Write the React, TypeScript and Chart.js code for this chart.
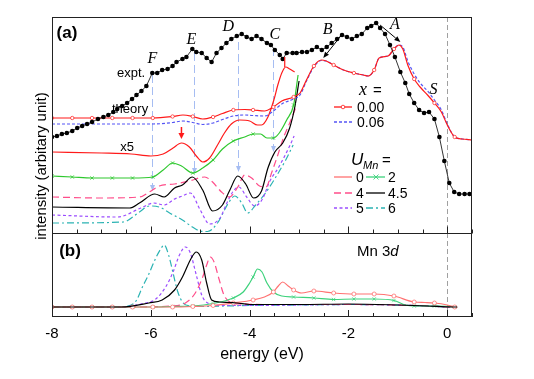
import React, { useEffect, useRef } from "react";
import { Chart, registerables } from "chart.js";

Chart.register(...registerables);

type P = [number, number];

// ---------------- axis ----------------
const X_MIN = -8;
const X_MAX = 0.5;
const X_LABELED = [-8, -6, -4, -2, 0];
const X_MINOR_STEP = 0.5;

// energies where the curves carry symbols
const MARKER_E = [-8.0, -7.59, -7.19, -6.78, -6.37, -5.96, -5.56, -5.15, -4.74, -4.33, -3.93, -3.52, -3.11, -2.7, -2.3, -1.89, -1.48, -1.08, -0.67, -0.26, 0.15];

// ---------------- panel (a) ----------------
const EXPT: P[] = [
  [-8.0, 96], [-7.9, 97], [-7.8, 99], [-7.7, 100], [-7.59, 102], [-7.49, 105], [-7.39, 107], [-7.29, 109], [-7.19, 111],
  [-7.07, 114], [-6.96, 116], [-6.86, 118], [-6.76, 121], [-6.68, 124], [-6.58, 127], [-6.48, 130], [-6.38, 134],
  [-6.29, 138], [-6.19, 142], [-6.09, 147], [-5.97, 160], [-5.87, 160], [-5.77, 163], [-5.66, 164], [-5.56, 167],
  [-5.48, 171], [-5.36, 174], [-5.28, 176], [-5.16, 184], [-5.08, 181], [-4.97, 180], [-4.87, 175], [-4.77, 171],
  [-4.67, 180], [-4.57, 185], [-4.47, 190], [-4.37, 194], [-4.26, 197], [-4.16, 199], [-4.06, 196], [-3.96, 194],
  [-3.86, 197], [-3.76, 194], [-3.65, 190], [-3.57, 188], [-3.49, 183], [-3.39, 178], [-3.33, 174], [-3.25, 180],
  [-3.13, 180], [-3.05, 180], [-2.94, 181], [-2.84, 181], [-2.74, 183], [-2.64, 186], [-2.54, 183], [-2.44, 186],
  [-2.34, 190], [-2.23, 194], [-2.13, 198], [-2.03, 196], [-1.93, 194], [-1.83, 197], [-1.73, 199], [-1.62, 205],
  [-1.54, 207], [-1.44, 210], [-1.36, 205], [-1.26, 199], [-1.16, 188], [-1.06, 176], [-0.95, 161], [-0.85, 150],
  [-0.77, 139], [-0.67, 130], [-0.57, 123], [-0.47, 120], [-0.37, 121], [-0.26, 114], [-0.16, 96], [-0.06, 72],
  [0.04, 50], [0.14, 41], [0.24, 39], [0.35, 39], [0.45, 39],
];

const THEORY_X000: P[] = [
  [-8.0, 115], [-7.59, 115], [-7.19, 115], [-6.78, 115], [-6.37, 115], [-5.96, 115], [-5.56, 116.5], [-5.35, 118],
  [-5.15, 116.5], [-4.95, 114], [-4.74, 116], [-4.55, 119.5], [-4.33, 123], [-4.1, 123.5], [-3.93, 123], [-3.7, 122],
  [-3.52, 126], [-3.35, 132], [-3.11, 136], [-2.98, 140], [-2.85, 153], [-2.7, 167], [-2.55, 173], [-2.45, 172],
  [-2.3, 168], [-2.1, 163], [-1.89, 160], [-1.7, 158], [-1.6, 157], [-1.48, 163], [-1.38, 175], [-1.2, 177],
  [-1.08, 184], [-0.98, 188], [-0.9, 184], [-0.8, 168], [-0.67, 154], [-0.55, 146], [-0.4, 138], [-0.26, 130],
  [-0.12, 121], [0.0, 108], [0.15, 96], [0.3, 94], [0.5, 93],
];

const THEORY_X006: P[] = [
  [-8.0, 109], [-5.96, 109], [-5.56, 110.5], [-5.35, 112], [-5.15, 110.5], [-4.95, 108.5], [-4.74, 110], [-4.55, 113.5],
  [-4.33, 117], [-4.1, 118], [-3.93, 117.5], [-3.7, 117], [-3.52, 122], [-3.35, 129], [-3.11, 134], [-2.98, 138],
  [-2.85, 152], [-2.7, 166], [-2.55, 172.5], [-2.45, 172], [-2.3, 168], [-2.1, 163], [-1.89, 160], [-1.7, 158],
  [-1.6, 157], [-1.48, 163], [-1.38, 175], [-1.2, 177], [-1.08, 184], [-0.98, 188], [-0.9, 186], [-0.8, 172],
  [-0.67, 159], [-0.55, 150], [-0.4, 142], [-0.26, 133], [-0.12, 123], [0.0, 109], [0.15, 96], [0.3, 94], [0.5, 93],
];

const TOP_U0_X5: P[] = [
  [-8.0, 81], [-7.0, 80], [-6.4, 79], [-6.0, 77], [-5.75, 79], [-5.55, 85], [-5.38, 90], [-5.22, 86], [-5.08, 77],
  [-4.95, 71], [-4.81, 75], [-4.65, 88], [-4.51, 100], [-4.37, 109], [-4.2, 113], [-4.0, 112], [-3.84, 108],
  [-3.76, 108], [-3.63, 116], [-3.51, 133], [-3.43, 148], [-3.35, 160], [-3.27, 166], [-3.19, 164], [-3.09, 161],
];

const TOP_U2: P[] = [
  [-8.0, 57], [-7.59, 56], [-7.19, 55], [-6.78, 55], [-6.37, 55], [-5.96, 56], [-5.75, 63], [-5.56, 70], [-5.38, 67],
  [-5.15, 60], [-4.95, 65], [-4.74, 73], [-4.55, 84], [-4.33, 92], [-4.1, 96], [-3.93, 99], [-3.78, 99], [-3.65, 95],
  [-3.52, 95], [-3.4, 100], [-3.25, 113], [-3.11, 128], [-3.02, 158],
];

const TOP_U4: P[] = [
  [-8.0, 36], [-7.05, 35], [-6.23, 36], [-6.03, 41], [-5.83, 47], [-5.52, 49], [-5.22, 52], [-4.91, 56], [-4.75, 51],
  [-4.57, 41], [-4.41, 36], [-4.24, 46], [-4.1, 58], [-3.96, 55], [-3.8, 47], [-3.67, 46], [-3.55, 61], [-3.43, 78],
  [-3.31, 96], [-3.19, 110], [-3.07, 125],
];

const TOP_U45: P[] = [
  [-8.0, 26], [-6.43, 25], [-6.23, 30], [-5.92, 39], [-5.73, 36], [-5.52, 45], [-5.36, 48], [-5.16, 56], [-4.95, 43],
  [-4.75, 22], [-4.55, 28], [-4.4, 43], [-4.24, 57], [-4.08, 49], [-3.92, 35], [-3.76, 42], [-3.63, 65], [-3.49, 81],
  [-3.33, 90], [-3.19, 105], [-3.09, 125], [-3.0, 152],
];

const TOP_U5: P[] = [
  [-8.0, 18], [-6.68, 16], [-6.2, 25], [-5.94, 30], [-5.73, 28], [-5.52, 34], [-5.36, 37], [-5.2, 40], [-5.0, 23],
  [-4.81, 9], [-4.6, 15], [-4.47, 29], [-4.33, 42], [-4.22, 46], [-4.06, 36], [-3.9, 27], [-3.74, 34], [-3.6, 51],
  [-3.41, 66], [-3.19, 87], [-3.1, 97],
];

const TOP_U6: P[] = [
  [-8.0, 10], [-6.56, 11], [-6.23, 21], [-6.03, 27], [-5.83, 26], [-5.62, 20], [-5.36, 13], [-5.16, 6], [-5.0, 2],
  [-4.85, 1.5], [-4.65, 10], [-4.43, 30], [-4.3, 37], [-4.16, 30], [-4.04, 20], [-3.88, 28], [-3.68, 40], [-3.47, 56],
  [-3.27, 73], [-3.12, 88],
];

// ---------------- panel (b): Mn 3d ----------------
const BOT_U0: P[] = [
  [-8.0, 10], [-7.59, 10], [-7.19, 10], [-6.78, 10], [-6.37, 10], [-5.96, 10], [-5.56, 10], [-5.15, 10.5], [-4.74, 11.5],
  [-4.33, 14], [-3.93, 17], [-3.7, 20], [-3.52, 25], [-3.42, 31], [-3.33, 35], [-3.22, 31], [-3.11, 27], [-2.95, 24],
  [-2.7, 26], [-2.3, 24], [-1.89, 23], [-1.48, 23], [-1.08, 21], [-0.67, 15], [-0.45, 14.5], [-0.26, 14], [0.0, 12],
  [0.15, 10], [0.2, 9.5],
];

const BOT_U2: P[] = [
  [-8.0, 10], [-7.59, 10], [-7.19, 10], [-6.78, 10], [-6.37, 10], [-5.96, 10], [-5.56, 10.5], [-5.15, 11], [-4.74, 13.5],
  [-4.33, 19], [-4.13, 25], [-4.0, 34], [-3.93, 40], [-3.84, 48], [-3.75, 45], [-3.65, 34], [-3.52, 25], [-3.35, 21],
  [-3.11, 20], [-2.7, 19], [-2.3, 17.5], [-1.89, 18], [-1.48, 18], [-1.08, 16.5], [-0.85, 12], [-0.67, 11],
  [-0.26, 11], [0.15, 10], [0.2, 9.5],
];

const BOT_U4: P[] = [
  [-8.0, 10], [-6.4, 10], [-5.6, 11], [-5.3, 14], [-5.1, 24], [-4.95, 40], [-4.87, 52], [-4.8, 60], [-4.72, 55],
  [-4.62, 38], [-4.52, 22], [-4.4, 15], [-4.2, 13], [-3.5, 12.5], [-3.0, 12.5], [-2.0, 12.5], [-1.0, 12], [-0.4, 11],
  [0.1, 10], [0.2, 10],
];

const BOT_U45: P[] = [
  [-8.0, 10], [-6.6, 10], [-6.04, 14], [-5.77, 17], [-5.52, 27], [-5.36, 40], [-5.18, 59], [-5.08, 65], [-4.97, 57],
  [-4.87, 34], [-4.77, 17], [-4.61, 15], [-4.26, 14], [-4.0, 12.5], [-3.0, 12.5], [-2.0, 13], [-1.0, 12], [-0.4, 11],
  [0.1, 10], [0.2, 10],
];

const BOT_U5: P[] = [
  [-8.0, 10], [-6.6, 10], [-6.2, 13], [-5.9, 18], [-5.7, 30], [-5.55, 45], [-5.42, 62], [-5.3, 70], [-5.2, 64],
  [-5.08, 42], [-4.97, 22], [-4.85, 14], [-4.6, 11.5], [-4.0, 11.5], [-3.0, 12], [-2.0, 12.5], [-1.0, 12], [-0.4, 11],
  [0.1, 10], [0.2, 10],
];

const BOT_U6: P[] = [
  [-8.0, 10], [-6.8, 10], [-6.5, 10.5], [-6.3, 16], [-6.17, 30], [-6.05, 42], [-5.89, 60], [-5.8, 68], [-5.73, 72],
  [-5.64, 62], [-5.55, 44], [-5.46, 26], [-5.36, 15], [-5.2, 11], [-4.9, 10.5], [-4.5, 11], [-4.0, 11.5], [-3.0, 12],
  [-2.0, 12.5], [-1.0, 12], [-0.4, 11], [0.1, 10], [0.2, 10],
];

// ---------------- annotations ----------------
const PEAK_LETTERS = ["F", "E", "D", "C", "B", "A", "S"];
const PEAK_LETTER_E = [-5.97, -5.18, -4.43, -3.49, -2.42, -1.06, -0.28];
const PEAK_LETTER_I = [174, 193, 206, 198, 203, 208, 143];
const GUIDE_E = [-5.97, -5.12, -4.24, -3.53];
const GUIDE_TOP = [158, 180, 191, 185];
const GUIDE_BOTTOM = [42, 59, 61, 81];

const SANS = '"Liberation Sans", Arial, Helvetica, sans-serif';
const SERIF = '"Liberation Serif", "Times New Roman", serif';

const RED = "#ff1a1a";
const BLUE = "#5555f5";
const GREEN_TOP = "#2fc82f";
const GREEN_BOT = "#3dd27c";
const PINK = "#ff4d8a";
const PURPLE = "#9b4dff";
const TEAL = "#2bb3b3";
const SALMON = "#ff7272";
const GUIDE = "#a6bdf2";
const ZERO = "#a0a0a0";

const DASH_BLUE = [3, 2];
const DASH_PINK = [7, 4];
const DASH_PURPLE = [3, 2.5];
const DASH_TEAL = [7, 3, 2, 3];

const isMarker = (e: number) => MARKER_E.some((m) => Math.abs(m - e) < 0.004);

function base(arr: P[], yAxisID: string, color: string, extra: any = {}) {
  return {
    data: arr.map(([x, y]) => ({ x, y })),
    yAxisID,
    xAxisID: "x",
    borderColor: color,
    backgroundColor: color,
    borderWidth: 1.2,
    pointRadius: 0,
    pointHoverRadius: 0,
    tension: 0.3,
    cubicInterpolationMode: "monotone",
    fill: false,
    borderJoinStyle: "round",
    ...extra,
  };
}

const markRadius = (r: number) => (c: any) => (c.raw && isMarker(c.raw.x) ? r : 0);

function arrow(ctx: CanvasRenderingContext2D, x1: number, y1: number, x2: number, y2: number, color: string, width: number, head: number, half: number) {
  ctx.save();
  ctx.strokeStyle = color;
  ctx.fillStyle = color;
  ctx.lineWidth = width;
  ctx.setLineDash([]);
  const ang = Math.atan2(y2 - y1, x2 - x1);
  const bx = x2 - head * Math.cos(ang);
  const by = y2 - head * Math.sin(ang);
  ctx.beginPath();
  ctx.moveTo(x1, y1);
  ctx.lineTo(bx, by);
  ctx.stroke();
  ctx.beginPath();
  ctx.moveTo(x2, y2);
  ctx.lineTo(bx + half * Math.sin(ang), by - half * Math.cos(ang));
  ctx.lineTo(bx - half * Math.sin(ang), by + half * Math.cos(ang));
  ctx.closePath();
  ctx.fill();
  ctx.restore();
}

function sample(ctx: CanvasRenderingContext2D, x1: number, x2: number, y: number, color: string, dash: number[]) {
  ctx.save();
  ctx.strokeStyle = color;
  ctx.lineWidth = 1.3;
  ctx.setLineDash(dash);
  ctx.beginPath();
  ctx.moveTo(x1, y);
  ctx.lineTo(x2, y);
  ctx.stroke();
  ctx.restore();
}

const annotPlugin = {
  id: "annot",
  beforeDatasetsDraw(chart: any) {
    const { ctx, chartArea: a, scales } = chart;
    const x = scales.x;
    const yt = scales.yTop;
    ctx.save();
    ctx.strokeStyle = ZERO;
    ctx.lineWidth = 1;
    ctx.setLineDash([5, 3]);
    const x0 = Math.round(x.getPixelForValue(0)) + 0.5;
    ctx.beginPath();
    ctx.moveTo(x0, a.top);
    ctx.lineTo(x0, a.bottom);
    ctx.stroke();
    GUIDE_E.forEach((e, i) => {
      const px = Math.round(x.getPixelForValue(e)) + 0.5;
      const y1 = yt.getPixelForValue(GUIDE_TOP[i]);
      const y2 = yt.getPixelForValue(GUIDE_BOTTOM[i]);
      ctx.strokeStyle = GUIDE;
      ctx.lineWidth = 1;
      ctx.setLineDash([8, 4]);
      ctx.beginPath();
      ctx.moveTo(px, y1);
      ctx.lineTo(px, y2 - 5);
      ctx.stroke();
      ctx.setLineDash([]);
      ctx.fillStyle = GUIDE;
      ctx.beginPath();
      ctx.moveTo(px, y2);
      ctx.lineTo(px - 2.5, y2 - 6);
      ctx.lineTo(px + 2.5, y2 - 6);
      ctx.closePath();
      ctx.fill();
    });
    ctx.restore();
  },
  afterDatasetsDraw(chart: any) {
    const { ctx, chartArea: a, scales } = chart;
    const x = scales.x;
    const yt = scales.yTop;
    const sep = Math.round(yt.getPixelForValue(0)) + 0.5;
    ctx.save();
    // frame
    ctx.strokeStyle = "#222";
    ctx.lineWidth = 1;
    ctx.setLineDash([]);
    ctx.strokeRect(a.left + 0.5, a.top + 0.5, a.right - a.left - 1, a.bottom - a.top - 1);
    ctx.beginPath();
    ctx.moveTo(a.left, sep);
    ctx.lineTo(a.right, sep);
    ctx.stroke();
    // ticks
    for (let e = X_MIN; e <= X_MAX + 1e-6; e += X_MINOR_STEP) {
      const px = Math.round(x.getPixelForValue(e)) + 0.5;
      const major = X_LABELED.some((v) => Math.abs(v - e) < 1e-6);
      const len = major ? 7 : 4;
      ctx.beginPath();
      ctx.moveTo(px, a.bottom);
      ctx.lineTo(px, a.bottom - len);
      ctx.moveTo(px, sep);
      ctx.lineTo(px, sep - len);
      ctx.stroke();
    }
    // tick labels
    ctx.fillStyle = "#000";
    ctx.font = `15px ${SANS}`;
    ctx.textAlign = "center";
    ctx.textBaseline = "middle";
    X_LABELED.forEach((v) => ctx.fillText(v === 0 ? "0" : `-${Math.abs(v)}`, x.getPixelForValue(v), a.bottom + 17));
    // axis titles
    ctx.font = `16px ${SANS}`;
    ctx.fillText("energy (eV)", (a.left + a.right) / 2, a.bottom + 38);
    ctx.save();
    ctx.translate(42, 166);
    ctx.rotate(-Math.PI / 2);
    ctx.font = `15px ${SANS}`;
    ctx.fillText("intensity (arbitary unit)", 0, 0);
    ctx.restore();
    // panel labels
    ctx.font = `bold 17px ${SANS}`;
    ctx.fillText("(a)", a.left + 15, a.top + 16);
    ctx.fillText("(b)", a.left + 18, sep + 18);
    ctx.textAlign = "left";
    ctx.font = `15px ${SANS}`;
    ctx.fillText("Mn 3", 357, sep + 18);
    const w = ctx.measureText("Mn 3").width;
    ctx.font = `italic 15px ${SANS}`;
    ctx.fillText("d", 357 + w, sep + 18);
    // curve labels
    ctx.textAlign = "center";
    ctx.font = `13px ${SANS}`;
    ctx.fillText("expt.", x.getPixelForValue(-6.4), yt.getPixelForValue(160));
    ctx.fillText("theory", x.getPixelForValue(-6.42), yt.getPixelForValue(123.5));
    ctx.fillText("x5", x.getPixelForValue(-6.48), yt.getPixelForValue(86));
    // peak letters
    ctx.font = `italic 16px ${SERIF}`;
    PEAK_LETTERS.forEach((t, i) => ctx.fillText(t, x.getPixelForValue(PEAK_LETTER_E[i]), yt.getPixelForValue(PEAK_LETTER_I[i])));
    // arrows
    arrow(ctx, x.getPixelForValue(-2.14), yt.getPixelForValue(198), x.getPixelForValue(-2.51), yt.getPixelForValue(175), "#000", 1, 6, 2.5);
    arrow(ctx, x.getPixelForValue(-1.36), yt.getPixelForValue(208), x.getPixelForValue(-0.95), yt.getPixelForValue(191), "#000", 1, 6, 2.5);
    arrow(ctx, x.getPixelForValue(-5.38), yt.getPixelForValue(106), x.getPixelForValue(-5.38), yt.getPixelForValue(94), RED, 1.5, 6, 3);
    ctx.strokeStyle = RED;
    ctx.lineWidth = 1.2;
    ctx.beginPath();
    ctx.moveTo(x.getPixelForValue(-3.29), yt.getPixelForValue(176));
    ctx.lineTo(x.getPixelForValue(-3.29), yt.getPixelForValue(166));
    ctx.stroke();

    // legend: x =
    ctx.fillStyle = "#000";
    ctx.textAlign = "left";
    ctx.textBaseline = "alphabetic";
    ctx.font = `italic 18px ${SERIF}`;
    ctx.fillText("x", 359, 95);
    ctx.font = `15px ${SANS}`;
    ctx.fillText("=", 373, 95);
    ctx.textBaseline = "middle";
    ctx.font = `14px ${SANS}`;
    sample(ctx, 334, 352, 107, RED, []);
    ctx.fillStyle = "#fff";
    ctx.strokeStyle = RED;
    ctx.lineWidth = 0.8;
    ctx.beginPath();
    ctx.arc(343, 107, 1.8, 0, Math.PI * 2);
    ctx.fill();
    ctx.stroke();
    ctx.fillStyle = "#000";
    ctx.fillText("0.00", 357, 108);
    sample(ctx, 334, 352, 122, BLUE, DASH_BLUE);
    ctx.fillText("0.06", 357, 123);

    // legend: U_Mn =
    ctx.textBaseline = "alphabetic";
    ctx.font = `italic 17px ${SANS}`;
    ctx.fillText("U", 351, 165);
    ctx.font = `italic 11px ${SANS}`;
    ctx.fillText("Mn", 363, 169);
    ctx.font = `15px ${SANS}`;
    ctx.fillText("=", 382, 165);
    ctx.textBaseline = "middle";
    ctx.font = `14px ${SANS}`;
    const rows: [string, string, number[], string, string, number[], number][] = [
      [SALMON, "0", [], GREEN_BOT, "2", [], 177],
      [PINK, "4", DASH_PINK, "#000", "4.5", [], 193],
      [PURPLE, "5", DASH_PURPLE, TEAL, "6", DASH_TEAL, 208],
    ];
    rows.forEach(([c1, t1, d1, c2, t2, d2, y]) => {
      sample(ctx, 334, 352, y, c1, d1);
      ctx.fillStyle = "#000";
      ctx.fillText(t1, 356, y + 1);
      sample(ctx, 366, 385, y, c2, d2);
      ctx.fillStyle = "#000";
      ctx.fillText(t2, 388, y + 1);
    });
    // x marker on green legend sample
    ctx.strokeStyle = GREEN_BOT;
    ctx.lineWidth = 0.9;
    ctx.beginPath();
    ctx.moveTo(373.5, 174.5);
    ctx.lineTo(378.5, 179.5);
    ctx.moveTo(378.5, 174.5);
    ctx.lineTo(373.5, 179.5);
    ctx.stroke();
    ctx.restore();
  },
};

export default function App() {
  const ref = useRef<HTMLCanvasElement>(null);
  useEffect(() => {
    const canvas = ref.current;
    if (!canvas) return;
    const datasets: any[] = [
      base(EXPT, "yTop", "#000", {
        borderWidth: 0.8,
        tension: 0,
        cubicInterpolationMode: "default",
        pointRadius: 2.3,
        pointBackgroundColor: "#000",
        pointBorderWidth: 0,
      }),
      base(THEORY_X000, "yTop", RED, {
        pointRadius: markRadius(1.7),
        pointStyle: "circle",
        pointBackgroundColor: "#fff",
        pointBorderColor: RED,
        pointBorderWidth: 0.7,
      }),
      base(THEORY_X006, "yTop", BLUE, { borderDash: DASH_BLUE }),
      base(TOP_U0_X5, "yTop", RED),
      base(TOP_U2, "yTop", GREEN_TOP, {
        pointRadius: markRadius(2.3),
        pointStyle: "crossRot",
        pointBorderColor: GREEN_TOP,
        pointBorderWidth: 0.8,
      }),
      base(TOP_U45, "yTop", "#000"),
      base(TOP_U4, "yTop", PINK, { borderDash: DASH_PINK }),
      base(TOP_U5, "yTop", PURPLE, { borderDash: DASH_PURPLE }),
      base(TOP_U6, "yTop", TEAL, { borderDash: DASH_TEAL }),
      base(BOT_U45, "yBot", "#000"),
      base(BOT_U0, "yBot", SALMON, {
        pointRadius: markRadius(2),
        pointStyle: "circle",
        pointBackgroundColor: "#fff",
        pointBorderColor: SALMON,
        pointBorderWidth: 0.8,
      }),
      base(BOT_U2, "yBot", GREEN_BOT, {
        pointRadius: markRadius(2.3),
        pointStyle: "crossRot",
        pointBorderColor: GREEN_BOT,
        pointBorderWidth: 0.8,
      }),
      base(BOT_U4, "yBot", PINK, { borderDash: DASH_PINK }),
      base(BOT_U5, "yBot", PURPLE, { borderDash: DASH_PURPLE }),
      base(BOT_U6, "yBot", TEAL, { borderDash: DASH_TEAL }),
    ];
    const chart = new Chart(canvas, {
      type: "line",
      data: { datasets },
      options: {
        responsive: false,
        animation: false,
        devicePixelRatio: 1,
        events: [],
        layout: { padding: { left: 52, right: 62, top: 17, bottom: 62 } },
        plugins: { legend: { display: false }, tooltip: { enabled: false } },
        scales: {
          x: { type: "linear", min: X_MIN, max: X_MAX, display: false },
          yTop: { type: "linear", min: -84, max: 216, display: false },
          yBot: { type: "linear", min: 0, max: 300, display: false },
        },
      } as any,
      plugins: [annotPlugin],
    });
    return () => chart.destroy();
  }, []);
  return (
    <div style={{ position: "fixed", left: 0, top: 0, width: 534, height: 379, background: "#fff" }}>
      <canvas ref={ref} width={534} height={379} style={{ width: 534, height: 379, display: "block" }} />
    </div>
  );
}
